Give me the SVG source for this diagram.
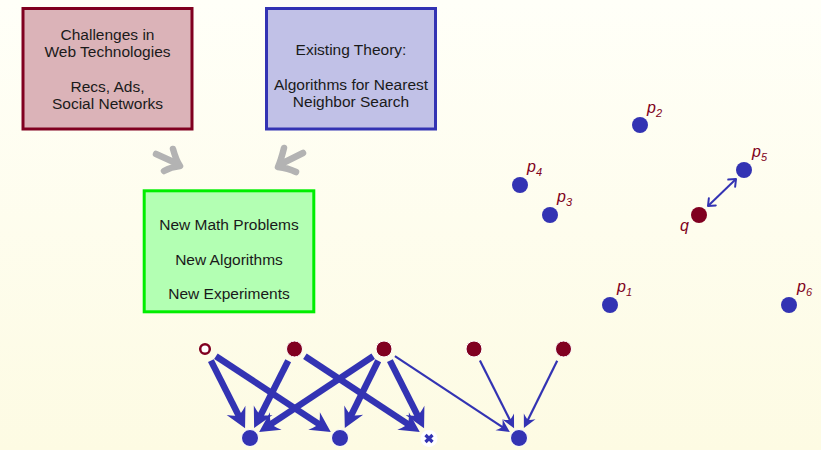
<svg xmlns="http://www.w3.org/2000/svg" width="821" height="450" viewBox="0 0 821 450">
<defs>
<linearGradient id="bg" x1="0" y1="0" x2="0" y2="1">
<stop offset="0" stop-color="#fffff8"/>
<stop offset="1" stop-color="#fdfbe3"/>
</linearGradient>
<marker id="thick" markerUnits="userSpaceOnUse" viewBox="-24 -13 28 26" refX="-11" refY="0" markerWidth="28" markerHeight="26" orient="auto">
<path d="M0,0 L-20,-10.5 Q-14,-2 -15,0 Q-14,2 -20,10.5 Z" fill="#3333b3"/>
</marker>
<marker id="thin" markerUnits="userSpaceOnUse" viewBox="-16 -9 18 18" refX="-7" refY="0" markerWidth="18" markerHeight="18" orient="auto">
<path d="M0,0 L-13,-6.5 Q-9,-1 -9.5,0 Q-9,1 -13,6.5 Z" fill="#3333b3"/>
</marker>
<marker id="open" markerUnits="userSpaceOnUse" viewBox="-10 -8 12 16" refX="0" refY="0" markerWidth="12" markerHeight="16" orient="auto-start-reverse">
<path d="M-6,-5 L0,0 L-6,5" fill="none" stroke="#3333b3" stroke-width="2" stroke-linecap="round" stroke-linejoin="round"/>
</marker>
</defs>
<style>
.box text{font-family:"Liberation Sans",Arial,sans-serif;font-size:15.5px;fill:#1a1a1a;text-anchor:middle}
.lbl{font-family:"Liberation Sans",Arial,sans-serif;font-style:italic;font-size:16px;fill:#800020}
.sub{font-size:11px}
.pt{fill:#3333b3}
.rd{fill:#800020;stroke:#ffffff;stroke-width:1}
.bt{fill:#3333b3;stroke:#ffffff;stroke-width:1}
.gray{fill:none;stroke:#b3b3b3;stroke-width:6.5;stroke-linecap:round;stroke-linejoin:round}
.tk{stroke:#3333b3;stroke-width:6.5;fill:none;marker-end:url(#thick)}
.tn{stroke:#3333b3;stroke-width:2.2;fill:none;marker-end:url(#thin)}
</style>
<rect x="0" y="0" width="821" height="450" fill="url(#bg)"/>

<g id="box-challenges" class="box">
<rect x="23" y="8.5" width="169" height="120.5" fill="#dbb3b8" stroke="#800020" stroke-width="3"/>
<text x="107.5" y="39.5">Challenges in</text>
<text x="107.5" y="56.5">Web Technologies</text>
<text x="107.5" y="91.5">Recs, Ads,</text>
<text x="107.5" y="109">Social Networks</text>
</g>

<g id="box-theory" class="box">
<rect x="266.5" y="8.5" width="169" height="120.5" fill="#c1c1e7" stroke="#3333b3" stroke-width="3"/>
<text x="351" y="55">Existing Theory:</text>
<text x="351" y="90">Algorithms for Nearest</text>
<text x="351" y="107">Neighbor Search</text>
</g>

<g id="box-new" class="box">
<rect x="144.2" y="190.8" width="169.6" height="121" fill="#b3ffb3" stroke="#00ee00" stroke-width="3"/>
<text x="229" y="230">New Math Problems</text>
<text x="229" y="264.5">New Algorithms</text>
<text x="229" y="298.5">New Experiments</text>
</g>

<g id="gray-arrows">
<path class="gray" d="M156,154 L178,164 M173,149 Q176,160 180,166 Q171,167 164,171"/>
<path class="gray" d="M303,153 L281,164 M284,148 Q281,160 278,167 Q288,168 296,172"/>
</g>

<g id="connectors">
<line class="tk" x1="210.9" y1="360.6" x2="240.1" y2="418.4"/>
<line class="tk" x1="215.9" y1="356.2" x2="321.6" y2="425.9"/>
<line class="tk" x1="288.2" y1="360.7" x2="259.1" y2="418.2"/>
<line class="tk" x1="304.9" y1="356.2" x2="410.6" y2="425.9"/>
<line class="tk" x1="373.2" y1="356.2" x2="268.3" y2="425.9"/>
<line class="tk" x1="378.2" y1="360.7" x2="349.7" y2="418.2"/>
<line class="tk" x1="389.9" y1="360.6" x2="419.1" y2="418.4"/>
<line class="tn" x1="394.9" y1="356.2" x2="504.0" y2="428.1"/>
<line class="tn" x1="479.9" y1="360.6" x2="510.9" y2="421.9"/>
<line class="tn" x1="557.2" y1="360.7" x2="527.0" y2="421.8"/>
<line x1="708" y1="206" x2="736" y2="179" stroke="#3333b3" stroke-width="2" marker-start="url(#open)" marker-end="url(#open)"/>
</g>

<g id="top-1"><circle cx="205" cy="349" r="4.8" fill="#ffffff" stroke="#800020" stroke-width="2.5"/></g>
<g id="top-2"><circle class="rd" cx="294.5" cy="349" r="8"/></g>
<g id="top-3"><circle class="rd" cx="384" cy="349" r="8"/></g>
<g id="top-4"><circle class="rd" cx="474" cy="349" r="8"/></g>
<g id="top-5"><circle class="rd" cx="563.5" cy="349" r="8"/></g>

<g id="bot-1"><circle class="bt" cx="250" cy="438" r="8.5"/></g>
<g id="bot-2"><circle class="bt" cx="340" cy="438" r="8.5"/></g>
<g id="bot-3"><circle cx="429" cy="438.5" r="8.5" fill="#ffffff"/><path d="M425.5,435 L432.5,442 M432.5,435 L425.5,442" stroke="#3333b3" stroke-width="3.2"/></g>
<g id="bot-4"><circle class="bt" cx="519" cy="438" r="8.5"/></g>

<g id="p2"><circle class="pt" cx="640" cy="125" r="8"/><text class="lbl" x="647" y="113">p<tspan class="sub" dy="3.5">2</tspan></text></g>
<g id="p4"><circle class="pt" cx="520" cy="185" r="8"/><text class="lbl" x="527" y="172">p<tspan class="sub" dy="3.5">4</tspan></text></g>
<g id="p3"><circle class="pt" cx="550" cy="215" r="8"/><text class="lbl" x="557" y="202">p<tspan class="sub" dy="3.5">3</tspan></text></g>
<g id="q"><circle cx="699" cy="215" r="8" fill="#800020"/><text class="lbl" x="680" y="231">q</text></g>
<g id="p5"><circle class="pt" cx="744" cy="170" r="8"/><text class="lbl" x="752" y="157">p<tspan class="sub" dy="3.5">5</tspan></text></g>
<g id="p1"><circle class="pt" cx="610" cy="305" r="8"/><text class="lbl" x="617" y="292">p<tspan class="sub" dy="3.5">1</tspan></text></g>
<g id="p6"><circle class="pt" cx="789" cy="305" r="8"/><text class="lbl" x="797" y="292">p<tspan class="sub" dy="3.5">6</tspan></text></g>
</svg>
